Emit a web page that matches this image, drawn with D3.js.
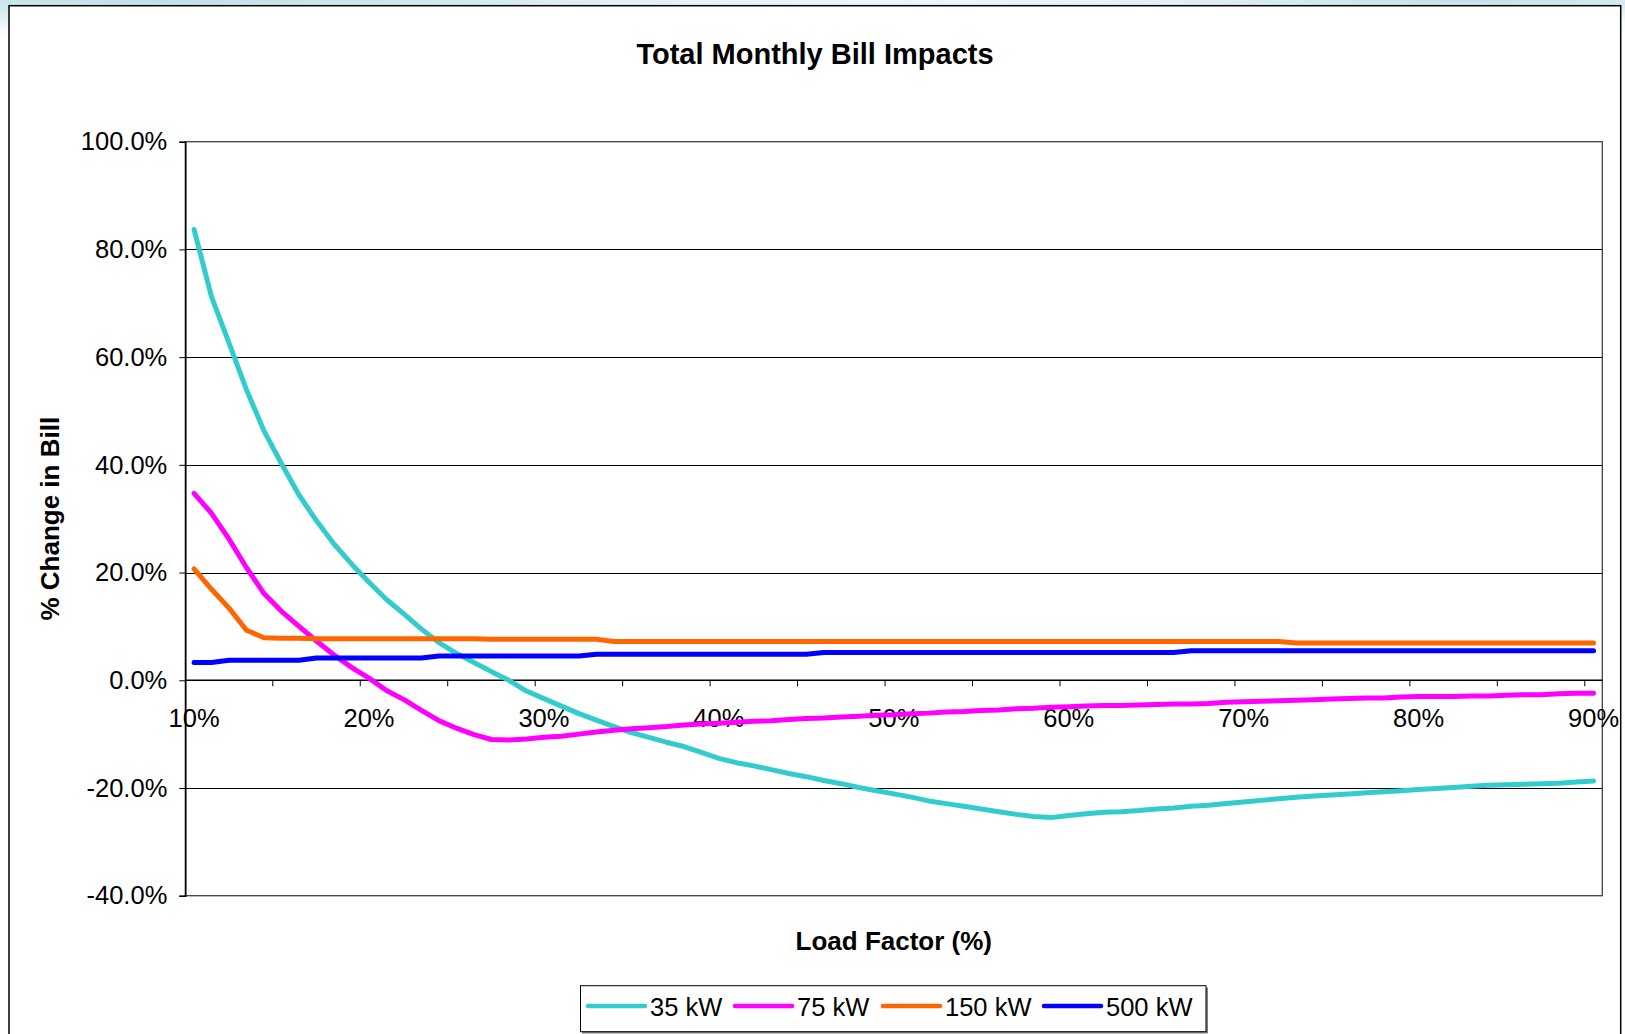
<!DOCTYPE html>
<html>
<head>
<meta charset="utf-8">
<script src="https://cdn.jsdelivr.net/npm/d3@7"></script>
<style>
  html, body { margin: 0; padding: 0; background: #fff; }
  svg { display: block; font-family: "Liberation Sans", Arial, sans-serif; }
</style>
</head>
<body>
<div id="chart"></div>
<script>
// load factor categories (%)
var loadFactors = [10, 11, 12, 13, 14, 15, 16, 17, 18, 19, 20, 21, 22, 23, 24, 25, 26, 27, 28, 29,
  30, 31, 32, 33, 34, 35, 36, 37, 38, 39, 40, 41, 42, 43, 44, 45, 46, 47, 48, 49,
  50, 51, 52, 53, 54, 55, 56, 57, 58, 59, 60, 61, 62, 63, 64, 65, 66, 67, 68, 69,
  70, 71, 72, 73, 74, 75, 76, 77, 78, 79, 80, 81, 82, 83, 84, 85, 86, 87, 88, 89, 90]

// % change in bill, one value per load factor
var kw35 = [83.7, 71.2, 62.6, 53.9, 46.3, 40.2, 34.4, 29.6, 25.3, 21.6,
  18.2, 15.0, 12.3, 9.5, 7.0, 5.0, 3.3, 1.6, 0.0, -2.0,
  -3.4, -4.8, -6.2, -7.4, -8.6, -9.7, -10.6, -11.5, -12.3, -13.4,
  -14.5, -15.3, -15.9, -16.6, -17.3, -17.9, -18.6, -19.2, -19.9, -20.5,
  -21.1, -21.7, -22.4, -22.9, -23.4, -23.9, -24.4, -24.9, -25.3, -25.5,
  -25.1, -24.8, -24.5, -24.4, -24.2, -23.9, -23.7, -23.4, -23.2, -22.9,
  -22.6, -22.3, -22.0, -21.7, -21.5, -21.3, -21.1, -20.9, -20.7, -20.5,
  -20.3, -20.1, -19.9, -19.7, -19.5, -19.4, -19.3, -19.2, -19.1, -18.9, -18.7]

var kw75 = [34.7, 31.0, 26.2, 20.9, 16.1, 12.8, 10.0, 7.3, 4.7, 2.4,
  0.4, -1.9, -3.6, -5.6, -7.5, -8.9, -10.1, -11.0, -11.1, -10.9,
  -10.6, -10.4, -10.0, -9.6, -9.3, -9.0, -8.8, -8.6, -8.3, -8.1,
  -8.0, -7.8, -7.6, -7.5, -7.3, -7.1, -7.0, -6.8, -6.7, -6.5,
  -6.4, -6.2, -6.1, -5.9, -5.8, -5.6, -5.5, -5.3, -5.2, -5.0,
  -4.9, -4.8, -4.7, -4.7, -4.6, -4.5, -4.4, -4.4, -4.3, -4.1,
  -4.0, -3.9, -3.8, -3.7, -3.6, -3.5, -3.4, -3.3, -3.3, -3.1,
  -3.0, -3.0, -3.0, -2.9, -2.9, -2.8, -2.7, -2.7, -2.5, -2.4, -2.4]

var kw150 = [20.7, 16.9, 13.4, 9.3, 7.9, 7.8, 7.8, 7.7, 7.7, 7.7,
  7.7, 7.7, 7.7, 7.7, 7.7, 7.7, 7.7, 7.6, 7.6, 7.6,
  7.6, 7.6, 7.6, 7.6, 7.2, 7.2, 7.2, 7.2, 7.2, 7.2,
  7.2, 7.2, 7.2, 7.2, 7.2, 7.2, 7.2, 7.2, 7.2, 7.2,
  7.2, 7.2, 7.2, 7.2, 7.2, 7.2, 7.2, 7.2, 7.2, 7.2,
  7.2, 7.2, 7.2, 7.2, 7.2, 7.2, 7.2, 7.2, 7.2, 7.2,
  7.2, 7.2, 7.2, 6.9, 6.9, 6.9, 6.9, 6.9, 6.9, 6.9,
  6.9, 6.9, 6.9, 6.9, 6.9, 6.9, 6.9, 6.9, 6.9, 6.9, 6.9]

var kw500 = [3.3, 3.3, 3.7, 3.7, 3.7, 3.7, 3.7, 4.15, 4.15, 4.15,
  4.15, 4.15, 4.15, 4.15, 4.5, 4.5, 4.5, 4.5, 4.5, 4.5,
  4.5, 4.5, 4.5, 4.85, 4.85, 4.85, 4.85, 4.85, 4.85, 4.85,
  4.85, 4.85, 4.85, 4.85, 4.85, 4.85, 5.15, 5.15, 5.15, 5.15,
  5.15, 5.15, 5.15, 5.15, 5.15, 5.15, 5.15, 5.15, 5.15, 5.15,
  5.15, 5.15, 5.15, 5.15, 5.15, 5.15, 5.15, 5.5, 5.5, 5.5,
  5.5, 5.5, 5.5, 5.5, 5.5, 5.5, 5.5, 5.5, 5.5, 5.5,
  5.5, 5.5, 5.5, 5.5, 5.5, 5.5, 5.5, 5.5, 5.5, 5.5, 5.5]

var seriesNames = ['35 kW', '75 kW', '150 kW', '500 kW']
var seriesColors = ['#33CCCC', '#FF00FF', '#FF6600', '#0000FF']
var yTicks = [-40, -20, 0, 20, 40, 60, 80, 100]

var W = 1625
var H = 1034
// plot area
var P = { left: 185.3, right: 1602.3, top: 141.7, bottom: 895.7 }

var svg = d3.select('#chart').append('svg')
  .attr('width', W)
  .attr('height', H)

// slide background peeking round the chart frame
var defs = svg.append('defs')
var grad = defs.append('radialGradient').attr('id', 'bgL').attr('cx', '0.1').attr('cy', '0').attr('r', '0.6')
grad.append('stop').attr('offset', '0%').attr('stop-color', '#bfe0ea')
grad.append('stop').attr('offset', '100%').attr('stop-color', '#ffffff')
var grad2 = defs.append('radialGradient').attr('id', 'bgR').attr('cx', '0.9').attr('cy', '0').attr('r', '0.6')
grad2.append('stop').attr('offset', '0%').attr('stop-color', '#bfe0ea')
grad2.append('stop').attr('offset', '100%').attr('stop-color', '#ffffff').attr('stop-opacity', 0)
svg.append('rect').attr('width', W).attr('height', 60).attr('fill', 'url(#bgL)')
svg.append('rect').attr('width', W).attr('height', 60).attr('fill', 'url(#bgR)')

// chart area
svg.append('rect')
  .attr('x', 9).attr('y', 5.7)
  .attr('width', 1611.7).attr('height', H)
  .attr('fill', '#fff')
  .attr('stroke', '#000')
  .attr('stroke-width', 1.5)

var x = d3.scaleBand()
  .domain(loadFactors)
  .range([P.left, P.right])
  .padding(0)

var y = d3.scaleLinear()
  .domain([-40, 100])
  .range([P.bottom, P.top])

var cx = function (d) { return x(d) + x.bandwidth() / 2 }

// gridlines
svg.append('g')
  .selectAll('line')
  .data(yTicks.filter(function (t) { return t !== 0 && t !== 100 && t !== -40 }))
  .enter()
  .append('line')
  .attr('x1', P.left).attr('x2', P.right)
  .attr('y1', function (d) { return Math.round(y(d)) + 0.5 })
  .attr('y2', function (d) { return Math.round(y(d)) + 0.5 })
  .attr('stroke', '#000')
  .attr('stroke-width', 1)

// plot border
svg.append('rect')
  .attr('x', P.left).attr('y', P.top)
  .attr('width', P.right - P.left).attr('height', P.bottom - P.top)
  .attr('fill', 'none')
  .attr('stroke', '#404040')
  .attr('stroke-width', 1.3)

// y axis (plain hyphen for negatives, like the original)
var yAxis = d3.axisLeft(y)
  .tickValues(yTicks)
  .tickSize(6)
  .tickPadding(12)
  .tickFormat(function (d) { return d.toFixed(1) + '%' })
var gy = svg.append('g')
  .attr('transform', 'translate(' + P.left + ',0)')
  .call(yAxis)
gy.select('.domain').attr('stroke', '#000').attr('stroke-width', 1.5)
gy.selectAll('.tick line').attr('stroke', '#000')
gy.selectAll('.tick text')
  .attr('font-family', '"Liberation Sans", Arial, sans-serif')
  .attr('font-size', 25.5)
  .attr('fill', '#000')

// x axis along the zero line: ticks every 5 categories, labels every 10
var y0 = y(0)
svg.append('line')
  .attr('x1', P.left).attr('x2', P.right)
  .attr('y1', y0).attr('y2', y0)
  .attr('stroke', '#000')
  .attr('stroke-width', 1.3)

var tickCats = loadFactors.filter(function (d, i) { return i > 0 && i % 5 === 0 })
svg.append('g')
  .selectAll('line')
  .data(tickCats)
  .enter()
  .append('line')
  .attr('x1', function (d) { return x(d) })
  .attr('x2', function (d) { return x(d) })
  .attr('y1', y0).attr('y2', y0 + 6)
  .attr('stroke', '#000')
  .attr('stroke-width', 1)

svg.append('g')
  .selectAll('text')
  .data(loadFactors.filter(function (d, i) { return i % 10 === 0 }))
  .enter()
  .append('text')
  .attr('x', cx)
  .attr('y', y0 + 46.5)
  .attr('text-anchor', 'middle')
  .attr('font-size', 25.5)
  .text(function (d) { return d + '%' })

// series lines
var series = [kw35, kw75, kw150, kw500]
var line = d3.line()
  .x(function (d, i) { return cx(loadFactors[i]) })
  .y(function (d) { return y(d) })

svg.append('g')
  .selectAll('path')
  .data(series)
  .enter()
  .append('path')
  .attr('d', line)
  .attr('fill', 'none')
  .attr('stroke', function (d, i) { return seriesColors[i] })
  .attr('stroke-width', 5)
  .attr('stroke-linejoin', 'round')
  .attr('stroke-linecap', 'round')

// titles
svg.append('text')
  .attr('x', 815).attr('y', 64)
  .attr('text-anchor', 'middle')
  .attr('font-size', 29)
  .attr('font-weight', 'bold')
  .text('Total Monthly Bill Impacts')

svg.append('text')
  .attr('x', (P.left + P.right) / 2).attr('y', 950)
  .attr('text-anchor', 'middle')
  .attr('font-size', 26)
  .attr('font-weight', 'bold')
  .text('Load Factor (%)')

svg.append('text')
  .attr('transform', 'translate(59,' + (P.top + P.bottom) / 2 + ') rotate(-90)')
  .attr('text-anchor', 'middle')
  .attr('font-size', 26)
  .attr('font-weight', 'bold')
  .text('% Change in Bill')

// legend
var lg = svg.append('g')
lg.append('rect')
  .attr('x', 582).attr('y', 987.5)
  .attr('width', 626).attr('height', 46)
  .attr('fill', '#808080')
lg.append('rect')
  .attr('x', 580.5).attr('y', 985.7)
  .attr('width', 625.5).attr('height', 46)
  .attr('fill', '#fff')
  .attr('stroke', '#000')
  .attr('stroke-width', 1)

var legendX = [588, 735, 883, 1044]
var ly = 1006
seriesNames.forEach(function (name, i) {
  lg.append('line')
    .attr('x1', legendX[i]).attr('x2', legendX[i] + 57)
    .attr('y1', ly).attr('y2', ly)
    .attr('stroke', seriesColors[i])
    .attr('stroke-width', 4.5)
    .attr('stroke-linecap', 'round')
  lg.append('text')
    .attr('x', legendX[i] + 62).attr('y', ly + 9.5)
    .attr('font-size', 25.5)
    .text(name)
})
</script>
</body>
</html>
